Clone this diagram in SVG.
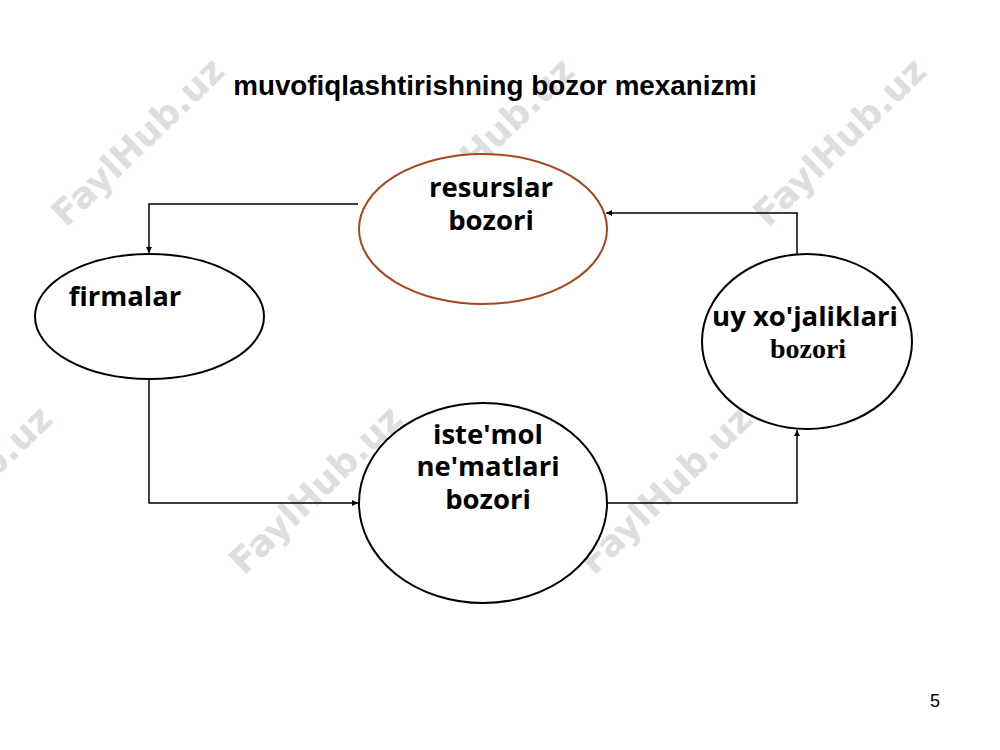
<svg xmlns="http://www.w3.org/2000/svg" width="1000" height="750" viewBox="0 0 1000 750">
<style>
.wm{font-family:"DejaVu Sans",sans-serif;font-weight:bold;font-size:36px;fill:#dedede;text-anchor:middle}
.node{fill:#fff;stroke:#000;stroke-width:2}
.lbl{font-family:"Open Sans","Noto Sans",sans-serif;font-weight:bold;font-size:27.5px;fill:#000;text-anchor:middle}
.ser{font-family:"Liberation Serif",serif;font-weight:bold;font-size:28px;fill:#000}
.con{fill:none;stroke:#000;stroke-width:1.5}
</style>
<defs>
<marker id="arr" viewBox="0 0 10 10" refX="10" refY="5" markerWidth="6" markerHeight="6" markerUnits="userSpaceOnUse" orient="auto">
<path d="M0,0 L10,5 L0,10 z" fill="#000"/>
</marker>
</defs>
<rect width="1000" height="750" fill="#fff"/>
<g id="watermarks">
<text class="wm" transform="translate(138,142) rotate(-44)" dy="12">FaylHub.uz</text>
<text class="wm" transform="translate(488,142) rotate(-44)" dy="12">FaylHub.uz</text>
<text class="wm" transform="translate(840,142) rotate(-44)" dy="12">FaylHub.uz</text>
<text class="wm" transform="translate(-34,490) rotate(-44)" dy="12">FaylHub.uz</text>
<text class="wm" transform="translate(316,490) rotate(-44)" dy="12">FaylHub.uz</text>
<text class="wm" transform="translate(666,490) rotate(-44)" dy="12">FaylHub.uz</text>
</g>
<text id="title" x="495" y="95" font-family="Liberation Sans,Arial,sans-serif" font-weight="bold" font-size="27.8" text-anchor="middle">muvofiqlashtirishning bozor mexanizmi</text>
<g id="connectors">
<path class="con" d="M358,204 H149 V253" marker-end="url(#arr)"/>
<path class="con" d="M149,379 V503 H358" marker-end="url(#arr)"/>
<path class="con" d="M607,503 H797 V430" marker-end="url(#arr)"/>
<path class="con" d="M797,254 V213 H606" marker-end="url(#arr)"/>
</g>
<g id="resurslar">
<ellipse class="node" cx="483" cy="229" rx="124" ry="75" style="stroke:#a9461d"/>
<text class="lbl" x="491" y="197">resurslar<tspan x="491" y="230">bozori</tspan></text>
</g>
<g id="firmalar">
<ellipse class="node" cx="149.5" cy="316.5" rx="114.5" ry="62.5"/>
<text class="lbl" x="125" y="306">firmalar</text>
</g>
<g id="uy">
<ellipse class="node" cx="807" cy="341.5" rx="105" ry="87.5"/>
<text class="lbl" x="805" y="326">uy xo'jaliklari<tspan class="ser" x="808" y="358">bozori</tspan></text>
</g>
<g id="istemol">
<ellipse class="node" cx="483" cy="503" rx="124" ry="100"/>
<text class="lbl" x="488" y="444">iste'mol<tspan x="488" y="476">ne'matlari</tspan><tspan x="488" y="509">bozori</tspan></text>
</g>
<text id="page" x="935" y="707" font-family="Liberation Sans,Arial,sans-serif" font-size="18" text-anchor="middle">5</text>
</svg>
